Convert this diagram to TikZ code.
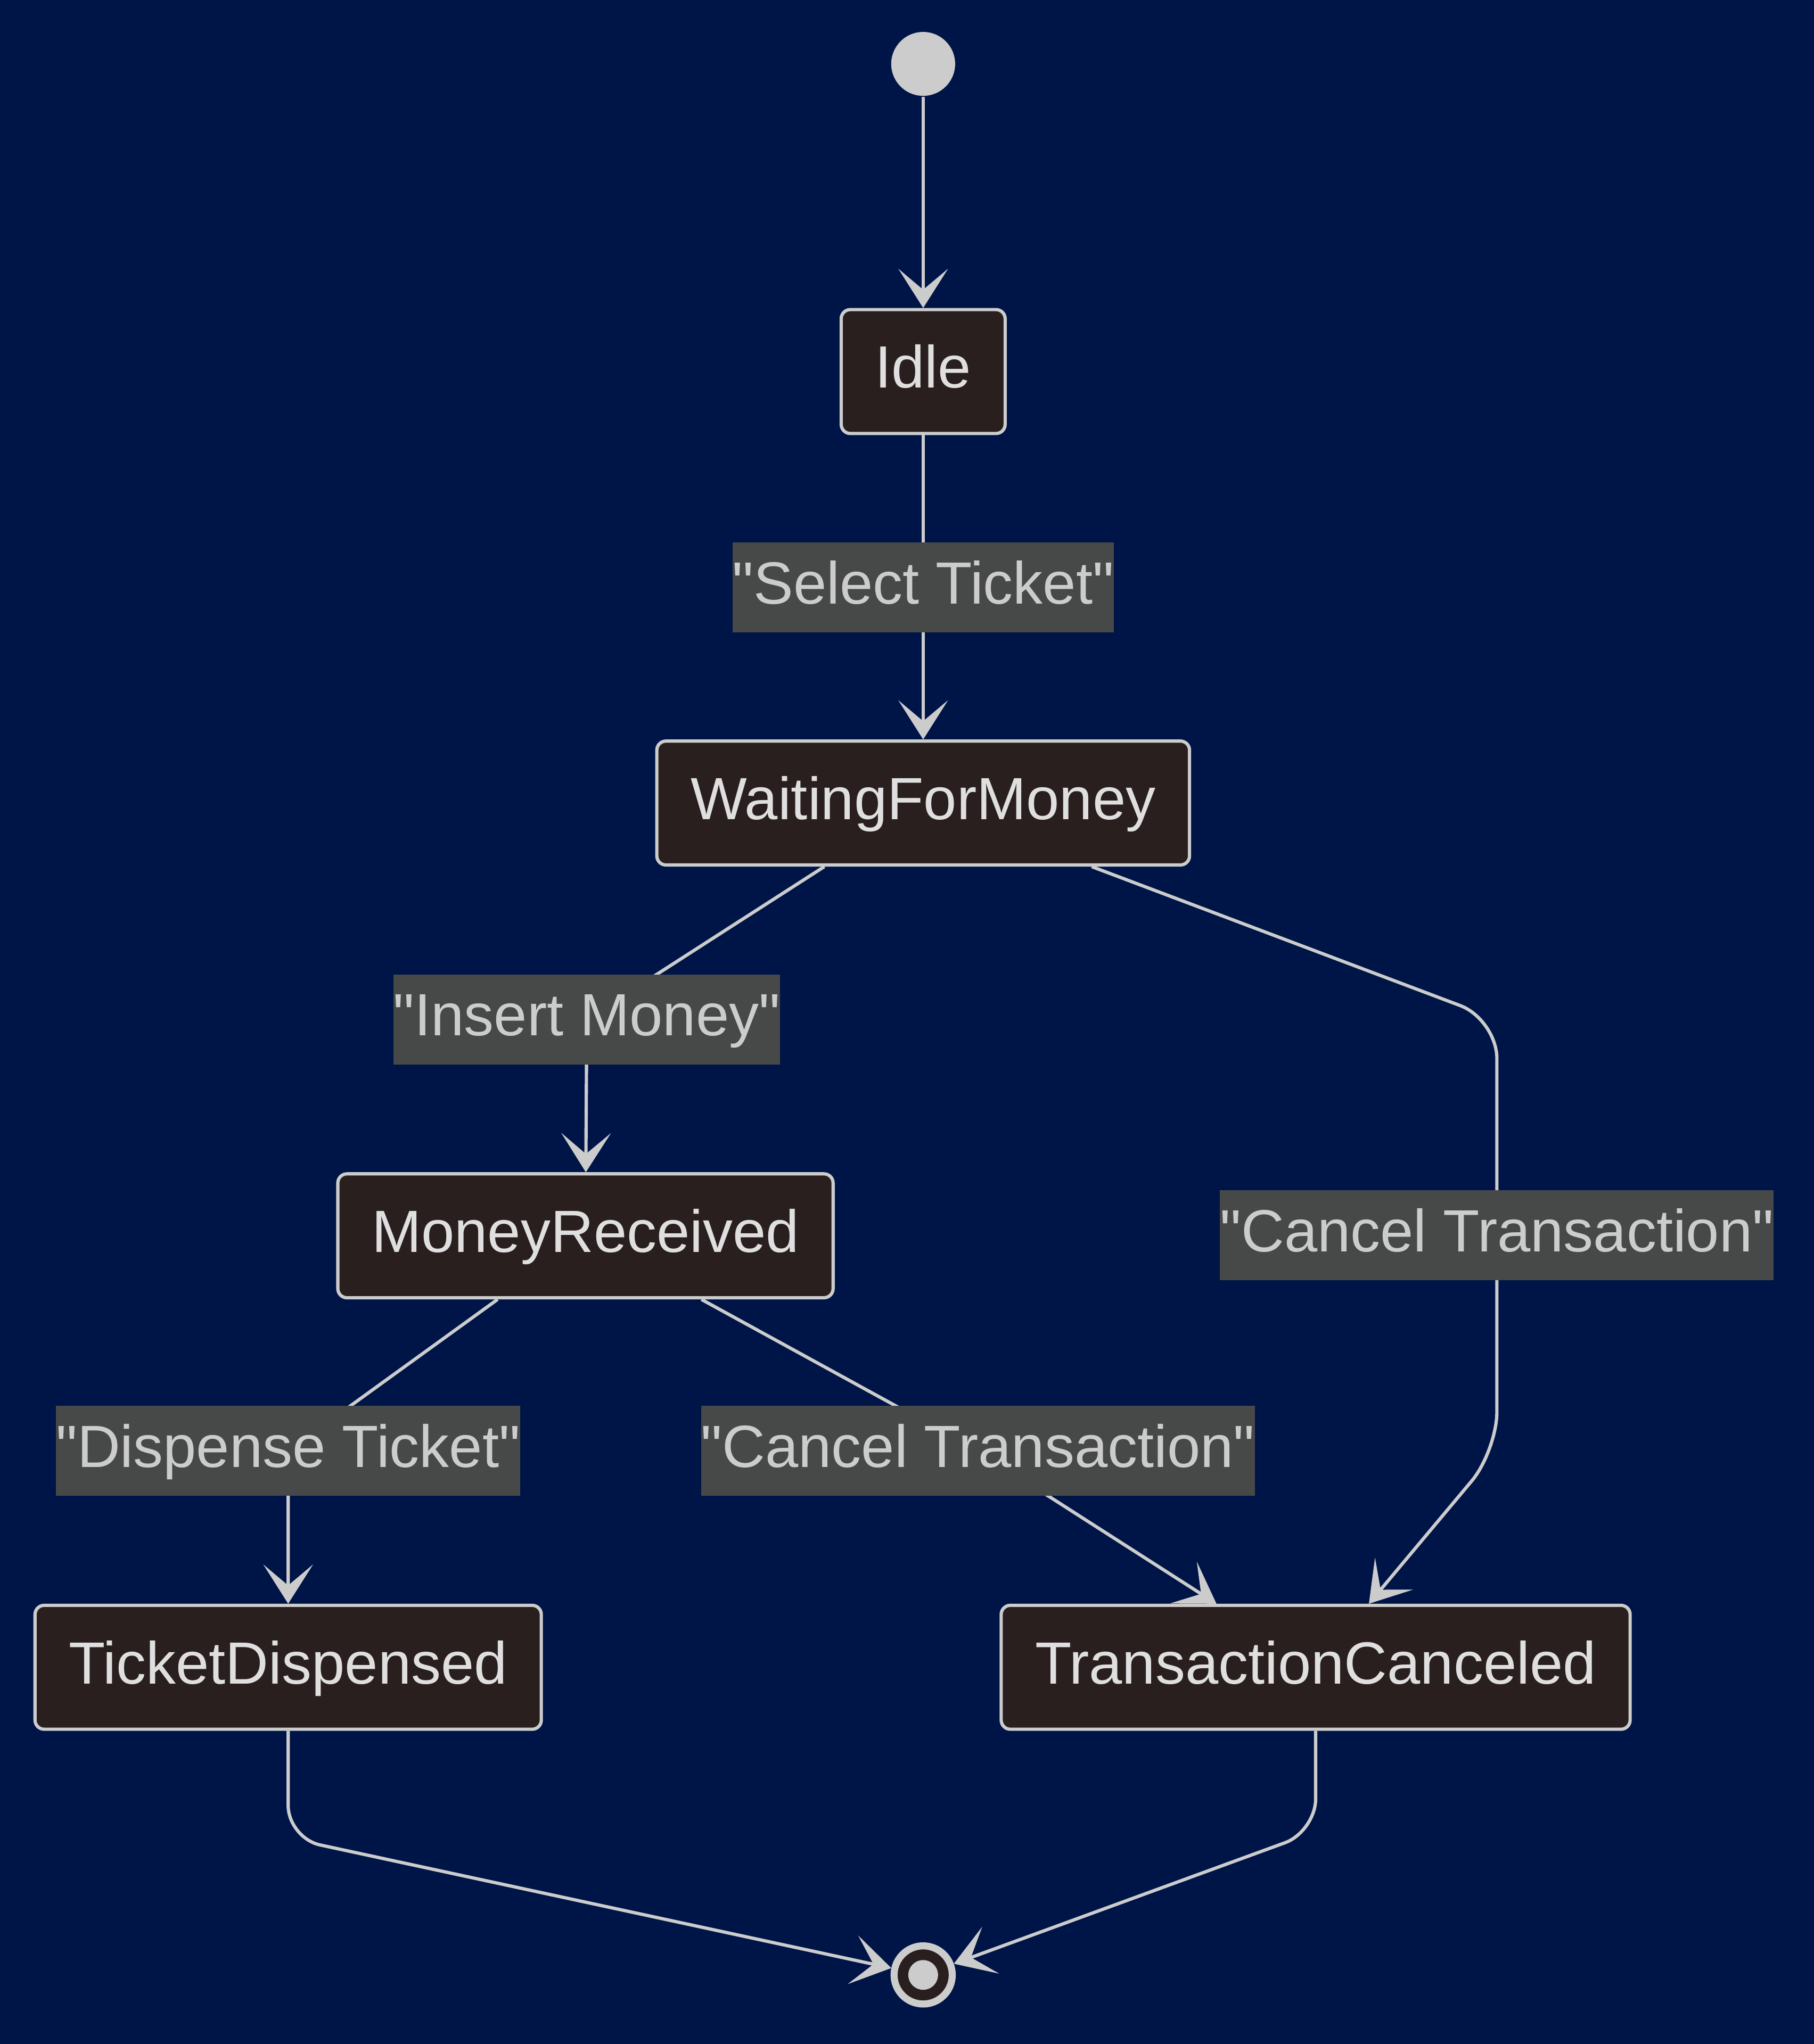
\documentclass[tikz,border=0pt]{standalone}
\usepackage{fontspec}
\setmainfont{Liberation Sans}[Ligatures=TeXOff]
\usepackage{tikz}
\usetikzlibrary{arrows.meta}

\definecolor{bgblue}{HTML}{001547}
\definecolor{statefill}{HTML}{2A1F1F}
\definecolor{linegrey}{HTML}{CCCCCC}
\definecolor{labelfill}{HTML}{474949}
\definecolor{statetext}{HTML}{E0DFDF}

\tikzset{
    statebox/.style={draw=linegrey, fill=statefill, text=statetext,
        line width=0.025cm, rounded corners=0.07cm,
        inner xsep=0.26cm, minimum height=0.95cm,
        text height=0.716em, text depth=0pt,
        font=\fontsize{13}{15}\selectfont},
    lbl/.style={fill=labelfill, text=linegrey, sharp corners,
        inner xsep=0pt, inner ysep=0pt, minimum height=0.69cm,
        text height=0.716em, text depth=0pt,
        font=\fontsize{13}{15}\selectfont},
    trans/.style={draw=linegrey, line width=0.025cm,
        -{Stealth[length=0.3cm, width=0.38cm, inset=0.16cm]}},
    startdot/.style={circle, fill=linegrey, minimum size=0.49cm, inner sep=0pt},
    enddot/.style={circle, draw=linegrey, fill=statefill, line width=0.054cm,
        minimum size=0.446cm, inner sep=0pt}
}

\begin{document}
\begin{tikzpicture}[x=0.01cm, y=-0.01cm]

        % background
        \fill[bgblue] (0,0) rectangle (1391,1568);

        % states
        \node[startdot] (start) at (708,49) {};
        \node[statebox] (idle) at (708,285) {Idle};
        \node[statebox] (wfm) at (708,616) {WaitingForMoney};
        \node[statebox] (mr) at (449,948) {MoneyReceived};
        \node[statebox] (td) at (221,1279) {TicketDispensed};
        \node[statebox] (tc) at (1009,1279) {TransactionCanceled};
        \node[enddot] (end) at (708,1515) {};
        \fill[linegrey] (end) circle (0.114cm);

        % bends
        \coordinate (cInsert) at (450,782);
        \coordinate (cWR1) at (1148,782);
        \coordinate (cWR2) at (1148,1113);
        \coordinate (cDispense) at (221,1113);
        \coordinate (cCancelM) at (750,1113);
        \coordinate (cTD) at (221,1410);
        \coordinate (cTC) at (1009,1405);

        % transitions
        \draw[trans] (start) -- (idle);
        \draw[trans] (idle) -- node[lbl] (lSelect) {"Select Ticket"} (wfm);
        \draw[trans] (wfm) -- (cInsert) node[lbl] (lInsert) {"Insert Money"} -- (mr);
        \draw[trans, rounded corners=0.3cm] (wfm) -- (cWR1)
            -- node[lbl] (lCancelR) {"Cancel Transaction"} (cWR2) -- (tc);
        \draw[trans] (mr) -- (cDispense) node[lbl] (lDispense) {"Dispense Ticket"} -- (td);
        \draw[trans] (mr) -- (cCancelM) node[lbl] (lCancelM) {"Cancel Transaction"} -- (tc);
        \draw[trans, rounded corners=0.25cm] (td) -- (cTD) -- (end);
        \draw[trans, rounded corners=0.25cm] (tc) -- (cTC) -- (end);
    \end{tikzpicture}
\end{document}
